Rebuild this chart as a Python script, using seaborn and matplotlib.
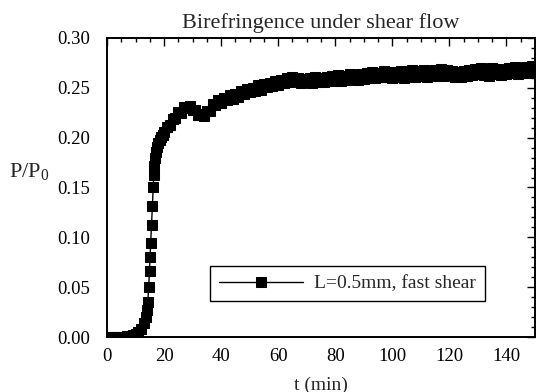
import matplotlib
matplotlib.use("Agg")
import matplotlib.pyplot as plt
import seaborn as sns
import pandas as pd
from matplotlib.ticker import MultipleLocator

t_min = [0, 1, 2, 3, 4, 5, 6, 7, 8, 9, 10, 11, 12, 13, 13.5, 14, 14.3, 14.6, 14.9, 15.1,
         15.3, 15.6, 15.9, 16.2, 16.4, 16.6, 16.9, 17.2, 17.6, 18, 18.5, 19, 19.5, 20,
         21, 22, 23, 24, 25, 26, 27, 28, 29, 30, 31, 32, 33, 34, 35, 36, 37, 38, 39, 40,
         41, 42, 43, 44, 45, 46, 47, 48, 49, 50, 51, 52, 53, 54, 55, 56, 57, 58, 59, 60,
         61, 62, 63, 64, 65, 66, 67, 68, 69, 70, 71, 72, 73, 74, 75, 76, 77, 78, 79, 80,
         81, 82, 83, 84, 85, 86, 87, 88, 89, 90, 91, 92, 93, 94, 95, 96, 97, 98, 99, 100,
         101, 102, 103, 104, 105, 106, 107, 108, 109, 110, 111, 112, 113, 114, 115, 116,
         117, 118, 119, 120, 121, 122, 123, 124, 125, 126, 127, 128, 129, 130, 131, 132,
         133, 134, 135, 136, 137, 138, 139, 140, 141, 142, 143, 144, 145, 146, 147, 148,
         149, 150]
p_ratio = [0.000, 0.000, 0.000, 0.000, 0.000, 0.000, 0.000, 0.001, 0.001, 0.002, 0.003,
           0.005, 0.008, 0.014, 0.020, 0.027, 0.035, 0.050, 0.066, 0.080,
           0.094, 0.112, 0.131, 0.151, 0.163, 0.172, 0.180, 0.186, 0.191, 0.195, 0.198,
           0.201, 0.203, 0.206,
           0.211, 0.213, 0.219, 0.220, 0.226, 0.225, 0.231, 0.230, 0.232, 0.228, 0.228,
           0.223, 0.224, 0.222, 0.227, 0.227, 0.234, 0.233, 0.238, 0.235,
           0.240, 0.238, 0.243, 0.239, 0.244, 0.241, 0.247, 0.244, 0.249, 0.246, 0.250,
           0.247, 0.253, 0.248, 0.254, 0.251, 0.255, 0.252, 0.257, 0.253,
           0.258, 0.255, 0.260, 0.256, 0.261, 0.257, 0.260, 0.255, 0.259, 0.256, 0.260,
           0.255, 0.261, 0.256, 0.260, 0.256, 0.261, 0.257, 0.262, 0.257,
           0.263, 0.257, 0.262, 0.258, 0.264, 0.259, 0.263, 0.258, 0.264, 0.259, 0.265,
           0.260, 0.266, 0.260, 0.265, 0.261, 0.267, 0.261, 0.266, 0.260,
           0.266, 0.261, 0.267, 0.260, 0.266, 0.262, 0.268, 0.261, 0.267, 0.262, 0.268,
           0.261, 0.267, 0.263, 0.268, 0.262,
           0.269, 0.262, 0.268, 0.263, 0.267, 0.261, 0.266, 0.261, 0.267, 0.262, 0.268,
           0.263, 0.269, 0.264, 0.270, 0.263,
           0.269, 0.262, 0.270, 0.264, 0.269, 0.263, 0.268, 0.264, 0.270, 0.265, 0.271,
           0.264, 0.270, 0.265, 0.271, 0.265,
           0.272, 0.266]

series_label = "L=0.5mm, fast shear"
title = "Birefringence under shear flow"
x_label = "t (min)"
y_label = "P/P$_0$"

df = pd.DataFrame({"t": t_min, "p": p_ratio})

sns.set_style("white")
plt.rcParams["font.family"] = ["Liberation Serif", "DejaVu Serif"]
plt.rcParams["mathtext.fontset"] = "custom"
plt.rcParams["mathtext.rm"] = "Liberation Serif"
plt.rcParams["mathtext.it"] = "Liberation Serif:italic"

fig = plt.figure(figsize=(5.36, 3.92), dpi=100)
ax = fig.add_axes([107 / 536, 1 - 337 / 392, 428 / 536, 299 / 392])

sns.lineplot(data=df, x="t", y="p", ax=ax, color="black", linewidth=1.0,
             marker="s", markersize=6.8, markeredgecolor="black",
             markerfacecolor="black", estimator=None, label=series_label)

ax.set_xlim(0, 150)
ax.set_ylim(0, 0.30)
ax.xaxis.set_major_locator(MultipleLocator(20))
ax.xaxis.set_minor_locator(MultipleLocator(5))
ax.yaxis.set_major_locator(MultipleLocator(0.05))
ax.yaxis.set_minor_locator(MultipleLocator(0.01))
ax.yaxis.set_major_formatter(matplotlib.ticker.FormatStrFormatter("%.2f"))
ax.tick_params(which="both", direction="in", top=True, right=True, colors="black",
               labelsize=13.5, width=1.0)
ax.tick_params(which="major", length=6)
ax.tick_params(which="minor", length=3)
ax.tick_params(axis="y", which="major", pad=12)
ax.tick_params(axis="x", which="major", pad=8)
for s in ax.spines.values():
    s.set_color("black")
    s.set_linewidth(1.4)

ax.set_title(title, fontsize=16, pad=7)
ax.set_xlabel(x_label, fontsize=14, labelpad=8)
ax.set_ylabel(y_label, fontsize=16, rotation=0)
ax.yaxis.set_label_coords(-0.181, 0.517)

leg = ax.legend(loc="lower left", bbox_to_anchor=(0.241, 0.12), borderaxespad=0,
                fancybox=False, framealpha=1, edgecolor="black", fontsize=14,
                handlelength=4.3, borderpad=0.45, handletextpad=0.6)
leg.get_frame().set_linewidth(1.0)

fig.savefig("out.png", dpi=100)
